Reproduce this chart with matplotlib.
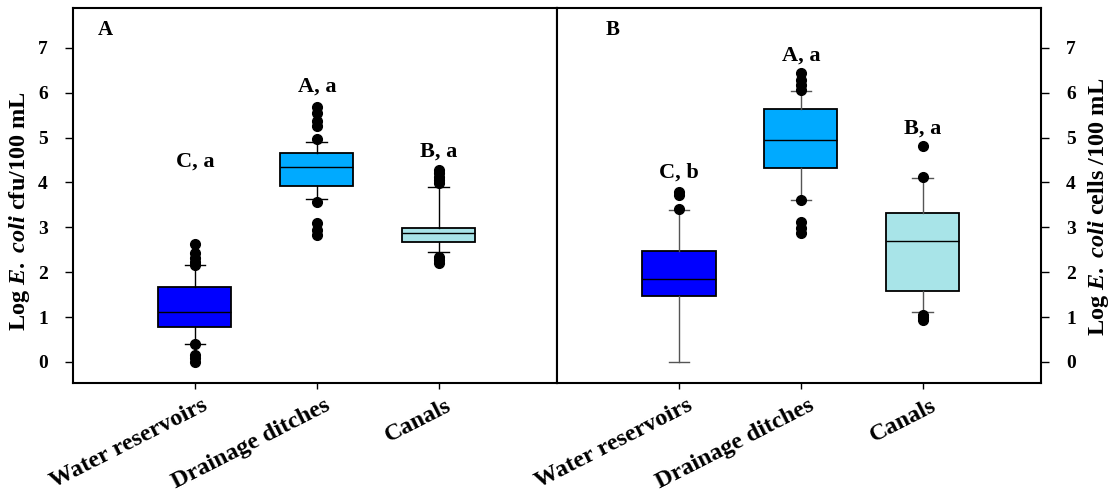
import matplotlib.pyplot as plt
import matplotlib.transforms as mtransforms
import numpy as np

plt.rcParams['font.family'] = 'Liberation Serif'
plt.rcParams['font.weight'] = 'bold'
plt.rcParams['mathtext.fontset'] = 'custom'
plt.rcParams['mathtext.rm'] = 'Liberation Serif:bold'
plt.rcParams['mathtext.it'] = 'Liberation Serif:italic:bold'

sites = ['Water reservoirs', 'Drainage ditches', 'Canals']
colors = ['#0000FF', '#00AAFF', '#A8E4E8']

# panel A: culture (cfu) -- q1, median, q3, whisker low, whisker high, outliers
a_q1 = [0.77, 3.92, 2.68]
a_med = [1.11, 4.35, 2.87]
a_q3 = [1.66, 4.65, 2.98]
a_wlo = [0.39, 3.63, 2.46]
a_whi = [2.16, 4.91, 3.89]
a_fliers = [[0.0, 0.08, 0.16, 0.39, 2.16, 2.23, 2.32, 2.43, 2.62],
            [2.83, 2.94, 3.09, 3.57, 4.97, 5.25, 5.36, 5.54, 5.69],
            [2.20, 2.28, 2.35, 3.98, 4.05, 4.13, 4.21, 4.28]]
a_letters = ['C, a', 'A, a', 'B, a']
a_lab_y = [4.46, 6.13, 4.69]

# panel B: qPCR (cells)
b_q1 = [1.47, 4.32, 1.57]
b_med = [1.84, 4.95, 2.70]
b_q3 = [2.48, 5.63, 3.33]
b_wlo = [0.0, 3.61, 1.12]
b_whi = [3.39, 6.04, 4.09]
b_fliers = [[3.40, 3.72, 3.78],
            [2.87, 2.98, 3.13, 3.61, 6.06, 6.17, 6.29, 6.44],
            [0.94, 1.00, 1.05, 4.13, 4.81]]
b_letters = ['C, b', 'A, a', 'B, a']
b_lab_y = [4.21, 6.84, 5.21]


def draw_panel(ax, q1, med, q3, wlo, whi, fliers, letters, lab_y, wcol):
    stats = []
    for i in range(3):
        stats.append({'q1': q1[i], 'med': med[i], 'q3': q3[i],
                      'whislo': wlo[i], 'whishi': whi[i], 'fliers': fliers[i]})
    bp = ax.bxp(stats, positions=[1, 2, 3], widths=0.6, patch_artist=True,
                boxprops=dict(linewidth=1.3, edgecolor='black'),
                medianprops=dict(color='black', linewidth=1.0),
                whiskerprops=dict(color=wcol, linewidth=1.0),
                capprops=dict(color=wcol, linewidth=1.0),
                capwidths=0.17,
                flierprops=dict(marker='o', markerfacecolor='black',
                                markeredgecolor='black', markersize=7))
    for patch, c in zip(bp['boxes'], colors):
        patch.set_facecolor(c)
    for i in range(3):
        ax.text(i + 1, lab_y[i], letters[i], ha='center', va='center',
                fontsize=16, fontweight='bold')
    ax.set_xlim(0, 3.97)
    ax.set_ylim(-0.47, 7.89)
    ax.set_yticks(range(8))
    ax.set_xticks([1, 2, 3])
    ax.set_xticklabels([])
    # category labels, rotated, placed a little right of each tick
    base = ax.get_xaxis_transform()
    shift = mtransforms.ScaledTranslation(7 / 100, -12 / 100, ax.figure.dpi_scale_trans)
    for i, name in enumerate(sites):
        ax.text(i + 1, 0, name, transform=base + shift, rotation=27,
                rotation_mode='anchor', ha='right', va='top',
                fontsize=17.5, fontweight='bold')
    ax.tick_params(axis='y', labelsize=14, length=6, width=1, pad=12)
    ax.tick_params(axis='x', length=4, width=1)
    for s in ax.spines.values():
        s.set_linewidth(1.5)


fig = plt.figure(figsize=(11.09, 4.94), dpi=100)
ax1 = fig.add_axes([0.0658, 0.2247, 0.4365, 0.7591])
ax2 = fig.add_axes([0.5023, 0.2247, 0.4365, 0.7591])

draw_panel(ax1, a_q1, a_med, a_q3, a_wlo, a_whi, a_fliers, a_letters, a_lab_y, 'black')
draw_panel(ax2, b_q1, b_med, b_q3, b_wlo, b_whi, b_fliers, b_letters, b_lab_y, '#555555')

ax1.set_ylabel(r'Log $\mathit{E.\ coli}$ cfu/100 mL', fontsize=17.5, fontweight='bold')
ax1.yaxis.set_label_coords(-0.085, 0.459)
ax2.yaxis.tick_right()
ax2.yaxis.set_label_position('right')
ax2.set_ylabel(r'Log $\mathit{E.\ coli}$ cells /100 mL', fontsize=17.5, fontweight='bold')
ax2.yaxis.set_label_coords(1.093, 0.469)

ax1.text(0.067, 0.941, 'A', transform=ax1.transAxes, ha='center', va='center', fontsize=15, fontweight='bold')
ax2.text(0.114, 0.941, 'B', transform=ax2.transAxes, ha='center', va='center', fontsize=15, fontweight='bold')

plt.savefig('out.png', dpi=100)
